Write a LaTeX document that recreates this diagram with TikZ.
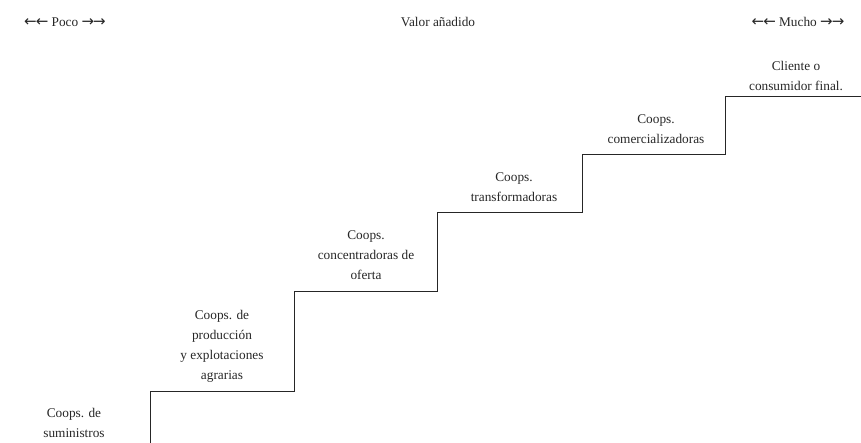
\documentclass[tikz,border=0pt]{standalone}
\usepackage{fontspec}
\setmainfont{Liberation Serif}
\newfontfamily\arrowfont{DejaVu Sans}
\usepackage{tikz}

\newcommand{\lar}{{\arrowfont\fontsize{15}{15}\selectfont ←\kern-1pt←}}
\newcommand{\rar}{{\arrowfont\fontsize{15}{15}\selectfont →\kern-1pt→}}

\begin{document}
\begin{tikzpicture}[x=1pt,y=1pt,
  lbl/.style={align=center,font=\fontsize{13.3}{20}\selectfont,text=black!85,inner sep=0pt}]
\useasboundingbox (0,0) rectangle (861,443);
 \node[lbl] (poco) at (65,421) {\lar\ Poco \rar};
 \node[lbl] (valor) at (438,421) {Valor añadido};
 \node[lbl] (mucho) at (798,421) {\lar\ Mucho \rar};
% escalera
\draw[line width=1pt,black!85] (150.5,0) -- (150.5,51) -- (294,51) -- (294,151.5)
  -- (437.5,151.5) -- (437.5,230.5) -- (582,230.5) -- (582,288.5)
  -- (725.5,288.5) -- (725.5,346) -- (861,346);
 \node[lbl] (sumi) at (74,20) {Coops. de\\suministros};
 \node[lbl] (prod) at (222,97) {Coops. de\\producción\\y explotaciones\\agrarias};
 \node[lbl] (conc) at (366,188) {Coops.\\concentradoras de\\oferta};
 \node[lbl] (trans) at (514,256) {Coops.\\transformadoras};
 \node[lbl] (comer) at (656,314) {Coops.\\comercializadoras};
 \node[lbl] (cliente) at (796,367) {Cliente o\\consumidor final.};
\end{tikzpicture}
\end{document}
